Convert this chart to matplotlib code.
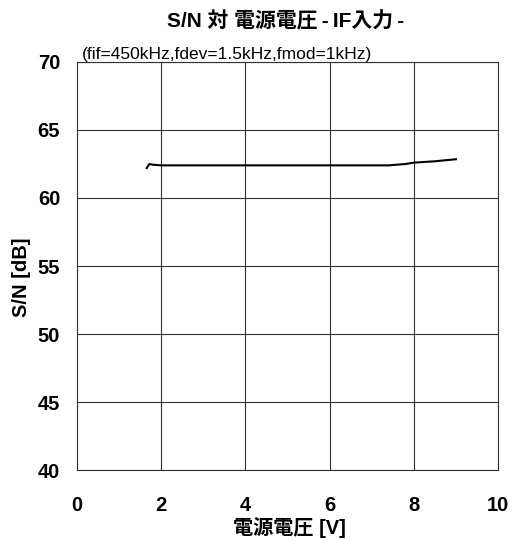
import matplotlib
matplotlib.use("Agg")
import matplotlib.pyplot as plt

plt.rcParams['font.family'] = ['Liberation Sans', 'Noto Sans CJK JP', 'DejaVu Sans']

# supply voltage [V] vs S/N [dB]
voltage = [1.66, 1.72, 1.8, 2.0, 3.0, 4.0, 5.0, 6.0, 7.0, 7.4, 7.8, 8.0, 8.5, 9.0]
sn_db = [62.2, 62.5, 62.45, 62.4, 62.4, 62.4, 62.4, 62.4, 62.4, 62.4, 62.5, 62.6, 62.7, 62.85]

title = 'S/N 対 電源電圧\u2009-\u2009IF入力\u2009-'
subtitle = '(fif=450kHz,fdev=1.5kHz,fmod=1kHz)'
xlabel = '電源電圧 [V]'
ylabel = 'S/N [dB]'

fig = plt.figure(figsize=(5.12, 5.4), dpi=100)
ax = fig.add_axes([0.150, 0.1296, 0.823, 0.7556])

ax.plot(voltage, sn_db, color='black', linewidth=1.5)

ax.set_xlim(0, 10)
ax.set_ylim(40, 70)
ax.set_xticks(range(0, 11, 2))
ax.set_yticks(range(40, 71, 5))
ax.grid(True, color='#333333', linewidth=0.8)
for s in ax.spines.values():
    s.set_color('#333333')
    s.set_linewidth(0.8)
ax.tick_params(length=0, labelsize=14.5)
ax.tick_params(axis='x', pad=19)
ax.tick_params(axis='y', pad=12)
for lbl in ax.get_xticklabels() + ax.get_yticklabels():
    lbl.set_fontweight('bold')

# axis labels placed by hand in figure coords
fig.text(0.565, 1 - 528 / 540, xlabel, ha='center', va='center', fontsize=14.5, fontweight='bold')
fig.text(0.042, 1 - 277 / 540, ylabel, ha='center', va='center', rotation=90,
         fontsize=14.5, fontweight='bold')

fig.text(0.557, 1 - 21 / 540, title, ha='center', va='center', fontsize=15, fontweight='bold')
ax.text(0.12, 69.97, subtitle, ha='left', va='bottom', fontsize=12.5)

fig.savefig('out.png', dpi=100)
